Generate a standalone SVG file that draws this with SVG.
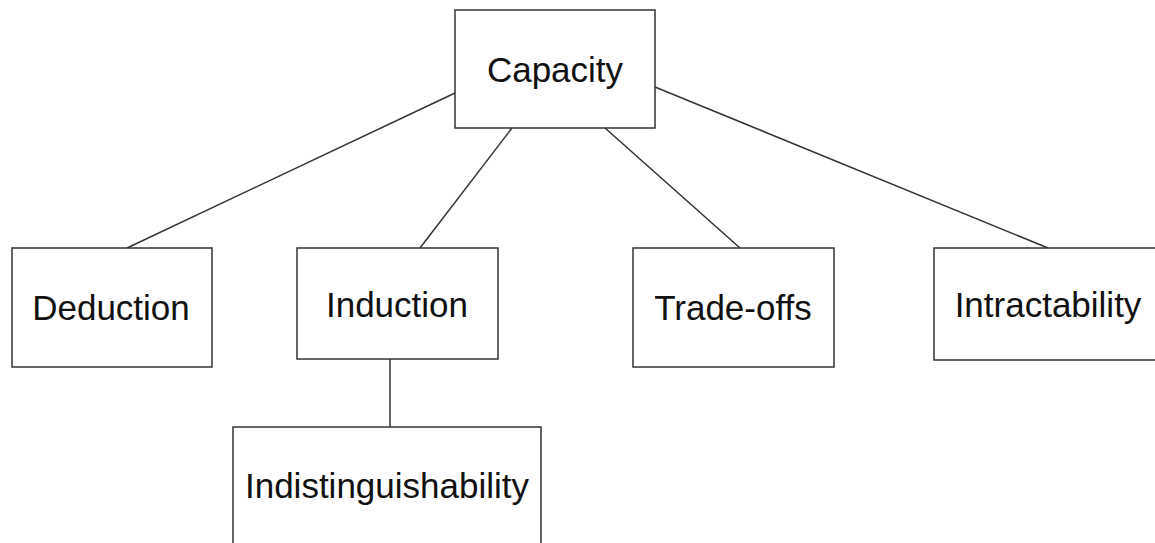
<svg xmlns="http://www.w3.org/2000/svg" width="1155" height="543" viewBox="0 0 1155 543">
<style>
.box{fill:#fff;stroke:#333;stroke-width:1.5}
.lbl{font-family:"Liberation Sans",Arial,sans-serif;font-size:35px;fill:#111;text-anchor:middle}
.con{stroke:#333;stroke-width:1.5;fill:none}
</style>
<rect width="1155" height="543" fill="#fff"/>
<g id="connectors">
<line class="con" x1="455" y1="93" x2="127" y2="248"/>
<line class="con" x1="512" y1="128" x2="420" y2="248"/>
<line class="con" x1="605" y1="128" x2="740" y2="248"/>
<line class="con" x1="655" y1="87" x2="1048" y2="248"/>
<line class="con" x1="390" y1="359" x2="390" y2="427"/>
</g>
<g id="capacity"><rect class="box" x="455" y="10" width="200" height="118"/><text class="lbl" x="555" y="82">Capacity</text></g>
<g id="deduction"><rect class="box" x="12" y="248" width="200" height="119"/><text class="lbl" x="111" y="320">Deduction</text></g>
<g id="induction"><rect class="box" x="297" y="248" width="201" height="111"/><text class="lbl" x="397" y="317">Induction</text></g>
<g id="tradeoffs"><rect class="box" x="633" y="248" width="201" height="119"/><text class="lbl" x="733" y="320">Trade-offs</text></g>
<g id="intractability"><rect class="box" x="934" y="248" width="240" height="112"/><text class="lbl" x="1048" y="317">Intractability</text></g>
<g id="indistinguishability"><rect class="box" x="233" y="427" width="308" height="130"/><text class="lbl" x="387" y="498">Indistinguishability</text></g>
</svg>
